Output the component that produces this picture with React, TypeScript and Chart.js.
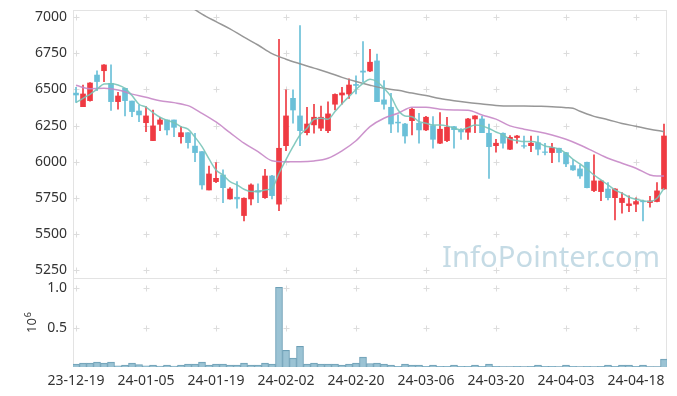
import React, { useEffect, useRef } from "react";
import { Chart, registerables } from "chart.js";

Chart.register(...registerables);

const dateLabels = ["23-12-19", "24-01-05", "24-01-19", "24-02-02", "24-02-20", "24-03-06", "24-03-20", "24-04-03", "24-04-18"];
const dateTickIndex = [0, 10, 20, 30, 40, 50, 60, 70, 80];
const priceTicks = [5250, 5500, 5750, 6000, 6250, 6500, 6750, 7000];
const volumeTicks = [500000, 1000000];

const opens = [6475, 6381, 6423, 6600, 6630, 6543, 6416, 6508, 6420, 6351, 6270, 6146, 6259, 6289, 6289, 6173, 6201, 6108, 6070, 5804, 5862, 5908, 5742, 5754, 5627, 5742, 5800, 5751, 5901, 5706, 6111, 6439, 6317, 6201, 6255, 6232, 6215, 6398, 6462, 6469, 6535, 6628, 6628, 6698, 6428, 6377, 6274, 6261, 6284, 6266, 6220, 6250, 6128, 6146, 6243, 6220, 6204, 6296, 6296, 6197, 6111, 6197, 6086, 6167, 6111, 6111, 6132, 6068, 6063, 6093, 6063, 5973, 5950, 5996, 5800, 5793, 5811, 5751, 5717, 5696, 5706, 5726, 5717, 5724, 5811];
const highs = [6515, 6530, 6548, 6630, 6672, 6670, 6480, 6510, 6420, 6393, 6381, 6358, 6308, 6289, 6289, 6243, 6201, 6197, 6070, 5970, 5994, 5943, 5820, 5862, 5750, 5846, 5846, 5948, 5905, 6848, 6497, 6497, 6942, 6377, 6398, 6386, 6414, 6470, 6515, 6573, 6594, 6831, 6778, 6746, 6561, 6474, 6324, 6265, 6370, 6335, 6315, 6312, 6340, 6308, 6245, 6230, 6301, 6320, 6315, 6261, 6155, 6200, 6180, 6182, 6178, 6178, 6178, 6128, 6128, 6095, 6065, 6015, 5978, 5998, 6047, 5870, 5856, 5814, 5786, 5763, 5750, 5735, 5760, 5856, 6261];
const lows = [6410, 6381, 6420, 6492, 6555, 6355, 6363, 6317, 6312, 6277, 6208, 6146, 6215, 6185, 6173, 6128, 6093, 6000, 5810, 5804, 5855, 5717, 5740, 5678, 5590, 5701, 5717, 5745, 5742, 5661, 6077, 6266, 6111, 6185, 6197, 6215, 6201, 6358, 6398, 6439, 6469, 6554, 6624, 6416, 6363, 6201, 6204, 6128, 6185, 6128, 6215, 6093, 6125, 6139, 6093, 6155, 6155, 6201, 6201, 5885, 6066, 6093, 6083, 6128, 6093, 6070, 6047, 6047, 5994, 5998, 5966, 5940, 5885, 5818, 5793, 5730, 5735, 5597, 5643, 5654, 5654, 5590, 5685, 5722, 5808];
const closes = [6462, 6469, 6545, 6555, 6670, 6416, 6455, 6423, 6347, 6324, 6317, 6248, 6289, 6220, 6238, 6201, 6132, 6063, 5839, 5915, 5885, 5820, 5811, 5742, 5747, 5839, 5790, 5901, 5765, 6093, 6317, 6358, 6215, 6261, 6308, 6308, 6331, 6466, 6476, 6531, 6528, 6620, 6689, 6416, 6398, 6261, 6268, 6178, 6363, 6220, 6308, 6155, 6225, 6239, 6222, 6206, 6296, 6317, 6201, 6104, 6128, 6128, 6169, 6178, 6107, 6128, 6086, 6064, 6097, 6063, 5985, 5943, 5901, 5820, 5867, 5867, 5751, 5811, 5747, 5708, 5724, 5722, 5728, 5798, 6178];
const volumes = [37000, 50000, 50000, 62000, 50000, 62000, 16000, 25000, 50000, 30000, 16000, 25000, 12000, 25000, 12000, 25000, 37000, 37000, 62000, 25000, 37000, 37000, 25000, 25000, 50000, 25000, 25000, 50000, 37000, 1012000, 212000, 112000, 262000, 37000, 50000, 37000, 37000, 37000, 25000, 37000, 50000, 125000, 45000, 50000, 37000, 25000, 8000, 37000, 25000, 25000, 8000, 25000, 8000, 8000, 25000, 8000, 8000, 25000, 8000, 37000, 8000, 6000, 6000, 8000, 6000, 8000, 25000, 8000, 8000, 6000, 25000, 8000, 6000, 8000, 6000, 8000, 25000, 8000, 25000, 25000, 8000, 25000, 6000, 6000, 100000];

const ma5 = [6409, 6439, 6467, 6502, 6538, 6540, 6531, 6508, 6458, 6398, 6378, 6340, 6308, 6287, 6270, 6243, 6225, 6170, 6104, 6020, 5943, 5908, 5862, 5839, 5809, 5793, 5793, 5804, 5816, 5920, 6015, 6104, 6185, 6232, 6294, 6301, 6294, 6347, 6402, 6451, 6500, 6543, 6571, 6554, 6508, 6451, 6358, 6317, 6312, 6277, 6266, 6254, 6254, 6248, 6232, 6220, 6236, 6254, 6248, 6230, 6206, 6185, 6155, 6146, 6139, 6139, 6132, 6109, 6100, 6088, 6058, 6017, 5985, 5948, 5908, 5874, 5839, 5804, 5782, 5754, 5740, 5730, 5724, 5747, 5816];
const ma20Index = [0, 2, 4, 6, 8, 10, 12, 14, 16, 18, 20, 22, 24, 26, 28, 30, 32, 34, 36, 38, 40, 42, 44, 46, 48, 50, 52, 54, 56, 58, 60, 62, 64, 66, 68, 70, 72, 74, 76, 78, 80, 82, 83, 84];
const ma20 = [6529, 6506, 6508, 6497, 6468, 6446, 6422, 6409, 6388, 6335, 6275, 6201, 6128, 6070, 6007, 6000, 6000, 6005, 6024, 6075, 6145, 6243, 6301, 6335, 6377, 6377, 6363, 6358, 6356, 6324, 6295, 6248, 6225, 6208, 6185, 6155, 6116, 6070, 6024, 5989, 5955, 5908, 5901, 5901];
const ma60Index = [16, 18, 20, 22, 24, 26, 28, 30, 32, 34, 36, 38, 40, 42, 44, 46, 48, 50, 52, 54, 56, 58, 60, 62, 64, 66, 68, 70, 71, 72, 73, 74, 76, 78, 80, 82, 84];
const ma60 = [7085, 7022, 6970, 6920, 6862, 6808, 6748, 6710, 6678, 6648, 6618, 6584, 6555, 6530, 6508, 6494, 6475, 6458, 6437, 6422, 6410, 6400, 6390, 6386, 6386, 6384, 6381, 6374, 6370, 6349, 6330, 6314, 6291, 6265, 6245, 6225, 6208];

const FONT = "'Noto Sans', 'DejaVu Sans', sans-serif";
const RED = "#ef3a42";
const BLUE = "#6bc0d8";

export default function App() {
  const ref = useRef<HTMLCanvasElement>(null);

  useEffect(() => {
    const canvas = ref.current;
    if (!canvas) return;
    const idx = opens.map((_, i) => i);
    const colors = idx.map((i) => (closes[i] >= opens[i] ? RED : BLUE));
    const bodies = idx.map((i) => ({ x: i, y: [opens[i], closes[i]] }));
    const wicks = idx.map((i) => ({ x: i, y: [lows[i], highs[i]] }));
    const vols = idx.map((i) => ({ x: i, y: volumes[i] }));
    const ma5Pts = idx.map((i) => ({ x: i, y: ma5[i] }));
    const ma20Pts = ma20Index.map((d, k) => ({ x: d, y: ma20[k] }));
    const ma60Pts = ma60Index.map((d, k) => ({ x: d, y: ma60[k] }));

    const decor = {
      id: "decor",
      beforeDatasetsDraw(chart: any) {
        const { ctx } = chart;
        const xs = chart.scales.x;
        const ys = chart.scales.y;
        const yv = chart.scales.yv;
        ctx.save();
        // watermark
        const text = "InfoPointer.com";
        let size = 30;
        ctx.font = `${size}px ${FONT}`;
        const w = ctx.measureText(text).width;
        size = size * 218 / w;
        ctx.font = `${size}px ${FONT}`;
        ctx.fillStyle = "rgba(150, 190, 208, 0.55)";
        ctx.textAlign = "right";
        ctx.textBaseline = "alphabetic";
        ctx.fillText(text, xs.right - 7, ys.bottom - 11);
        // panel borders
        ctx.strokeStyle = "#e3e3e3";
        ctx.lineWidth = 1;
        ctx.strokeRect(Math.round(xs.left) + 0.5, Math.round(ys.top) + 0.5, Math.round(xs.right - xs.left) - 1, Math.round(ys.bottom - ys.top));
        ctx.strokeRect(Math.round(xs.left) + 0.5, Math.round(yv.top) + 0.5, Math.round(xs.right - xs.left) - 1, Math.round(yv.bottom - yv.top) - 1);
        // grid crosses
        ctx.strokeStyle = "#dcdcdc";
        const cross = (px: number, py: number) => {
          px = Math.round(px) + 0.5;
          py = Math.round(py) + 0.5;
          ctx.beginPath();
          ctx.moveTo(px - 3, py);
          ctx.lineTo(px + 3, py);
          ctx.moveTo(px, py - 3);
          ctx.lineTo(px, py + 3);
          ctx.stroke();
        };
        dateTickIndex.forEach((d) => {
          const px = xs.getPixelForValue(d);
          priceTicks.forEach((p) => cross(px, ys.getPixelForValue(p)));
          volumeTicks.forEach((v) => cross(px, yv.getPixelForValue(v)));
        });
        ctx.restore();
      },
      afterDraw(chart: any) {
        const { ctx } = chart;
        const yv = chart.scales.yv;
        ctx.save();
        const cy = yv.top + 55;
        ctx.translate(32, cy);
        ctx.rotate(-Math.PI / 2);
        ctx.fillStyle = "#333";
        ctx.font = `13px ${FONT}`;
        ctx.textAlign = "left";
        ctx.textBaseline = "middle";
        ctx.fillText("10", 0, 0);
        const w = ctx.measureText("10").width;
        ctx.font = `9px ${FONT}`;
        ctx.fillText("6", w + 1, -4);
        ctx.restore();
      },
    };

    const fitY = (s: any) => {
      s.width = 73;
      s.paddingTop = 0;
      s.paddingBottom = 0;
    };

    const chart = new Chart(canvas, {
      type: "bar",
      data: {
        datasets: [
          { type: "line", label: "MA5", data: ma5Pts, yAxisID: "y", borderColor: "rgba(120,196,184,0.9)", borderWidth: 1.5, pointRadius: 0, cubicInterpolationMode: "monotone", order: 0 } as any,
          { type: "line", label: "MA20", data: ma20Pts, yAxisID: "y", borderColor: "rgba(198,135,198,0.9)", borderWidth: 1.5, pointRadius: 0, cubicInterpolationMode: "monotone", order: 0 } as any,
          { type: "line", label: "MA60", data: ma60Pts, yAxisID: "y", borderColor: "rgba(145,145,145,0.95)", borderWidth: 1.5, pointRadius: 0, cubicInterpolationMode: "monotone", order: 0 } as any,
          { type: "bar", label: "body", data: bodies, yAxisID: "y", backgroundColor: colors, barThickness: 5, grouped: false, borderWidth: 0, order: 1 } as any,
          { type: "bar", label: "wick", data: wicks, yAxisID: "y", backgroundColor: colors, barThickness: 1, grouped: false, borderWidth: 0, order: 2 } as any,
          { type: "bar", label: "volume", data: vols, yAxisID: "yv", backgroundColor: "rgba(150,192,210,0.95)", borderColor: "#6d9fb6", borderWidth: 1, barThickness: 7, grouped: false, order: 3 } as any,
        ],
      },
      options: {
        responsive: false,
        animation: false,
        events: [],
        layout: { padding: { top: 10, right: 10, left: 0, bottom: 0 } },
        plugins: { legend: { display: false }, tooltip: { enabled: false } },
        scales: {
          x: {
            type: "linear",
            min: -0.43,
            max: 84.43,
            offset: false,
            grid: { display: false, drawTicks: false },
            border: { display: false },
            afterBuildTicks: (s: any) => { s.ticks = dateTickIndex.map((v) => ({ value: v })); },
            afterFit: (s: any) => { s.height = 29; s.paddingLeft = 0; s.paddingRight = 0; },
            ticks: {
              autoSkip: false,
              maxRotation: 0,
              padding: 6,
              color: "#333",
              font: { family: FONT, size: 14 },
              callback: (v: any) => dateLabels[dateTickIndex.indexOf(Number(v))] ?? "",
            },
          },
          yv: {
            type: "linear",
            position: "left",
            stack: "panels",
            stackWeight: 89,
            min: 0,
            max: 1130000,
            grid: { display: false, drawTicks: false },
            border: { display: false },
            afterBuildTicks: (s: any) => { s.ticks = volumeTicks.map((v) => ({ value: v })); },
            afterFit: fitY,
            ticks: { padding: 6, color: "#333", font: { family: FONT, size: 14 }, callback: (v: any) => (Number(v) / 1e6).toFixed(1) },
          },
          y: {
            type: "linear",
            position: "left",
            stack: "panels",
            stackWeight: 268,
            min: 5194.6,
            max: 7050.5,
            grid: { display: false, drawTicks: false },
            border: { display: false },
            afterBuildTicks: (s: any) => { s.ticks = priceTicks.map((v) => ({ value: v })); },
            afterFit: fitY,
            ticks: { padding: 6, color: "#333", font: { family: FONT, size: 14 }, callback: (v: any) => String(v) },
          },
        },
      } as any,
      plugins: [decor],
    });
    return () => chart.destroy();
  }, []);

  return (
    <div style={{ position: "fixed", left: 0, top: 0, width: 677, height: 396, background: "#fff" }}>
      <canvas ref={ref} width={677} height={396} />
    </div>
  );
}
